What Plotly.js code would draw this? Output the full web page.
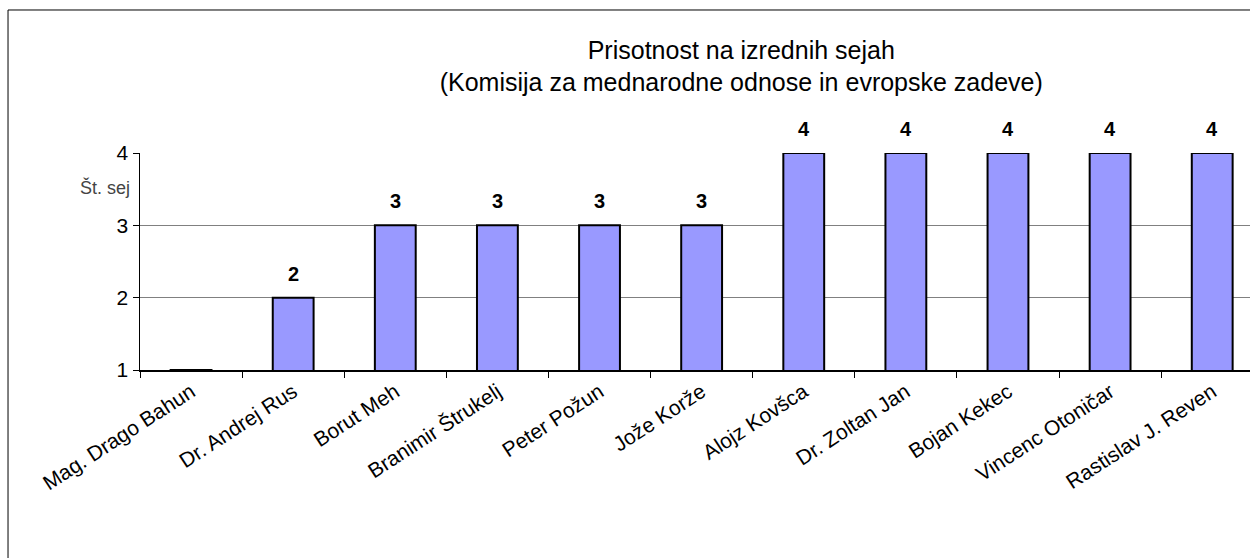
<!DOCTYPE html>
<html>
<head>
<meta charset="utf-8">
<script src="https://cdn.plot.ly/plotly-3.0.1.min.js"></script>
<style>
  body { margin: 0; background: #fff; }
  #chart { width: 1250px; height: 558px; }
</style>
</head>
<body>
<div id="chart"></div>
<script>
// Attendance at extraordinary sessions, one bar per member
const members = [
    'Mag. Drago Bahun', 'Dr. Andrej Rus', 'Borut Meh', 'Branimir Štrukelj',
    'Peter Požun', 'Jože Korže', 'Alojz Kovšca', 'Dr. Zoltan Jan',
    'Bojan Kekec', 'Vincenc Otoničar', 'Rastislav J. Reven'
];
const sessions = [1, 2, 3, 3, 3, 3, 4, 4, 4, 4, 4];
const yTicks = [1, 2, 3, 4];

const chartTitle = 'Prisotnost na izrednih sejah<br>(Komisija za mednarodne odnose in evropske zadeve)';
const yLabel = 'Št. sej';

const font = 'Arial, "Liberation Sans", sans-serif';

const data = [{
    type: 'bar',
    x: members,
    y: sessions,
    width: 0.4,
    marker: {
        color: '#9999FF',
        line: { color: '#000', width: 2 }
    },
    hoverinfo: 'x+y'
}];

// value labels above bars (none for the bar sitting on the axis floor)
const valueLabels = [];
members.forEach((m, i) => {
    if (sessions[i] > yTicks[0]) {
        valueLabels.push({
            x: m, y: sessions[i], xref: 'x', yref: 'y',
            text: String(sessions[i]),
            showarrow: false,
            yanchor: 'middle', yshift: 24,
            font: { family: font, size: 20, color: '#000', weight: 'bold' }
        });
    }
});

const layout = {
    width: 1250,
    height: 558,
    paper_bgcolor: '#fff',
    plot_bgcolor: '#fff',
    showlegend: false,
    margin: { l: 140, r: 0, t: 153, b: 188 },
    font: { family: font, color: '#000' },
    title: {
        text: chartTitle,
        font: { family: font, size: 25, color: '#000' },
        xref: 'container', x: 0.593, xanchor: 'center',
        yref: 'container', y: 0.895, yanchor: 'middle'
    },
    xaxis: {
        type: 'category',
        range: [-0.5, 10.37],
        tickson: 'boundaries',
        ticks: 'outside',
        ticklen: 6,
        tickcolor: '#000',
        tickangle: -33,
        tickfont: { family: font, size: 21, color: '#000' },
        showgrid: false,
        showline: true,
        linecolor: '#000',
        linewidth: 1.5,
        fixedrange: true
    },
    yaxis: {
        range: [1, 4],
        tickvals: yTicks,
        ticks: 'outside',
        ticklen: 6,
        tickcolor: '#000',
        tickfont: { family: font, size: 21, color: '#000' },
        showgrid: true,
        gridcolor: '#808080',
        gridwidth: 1,
        showline: true,
        linecolor: '#000',
        linewidth: 1.5,
        zeroline: false,
        fixedrange: true
    },
    annotations: valueLabels.concat([{
        text: yLabel,
        xref: 'paper', x: -0.056, xanchor: 'left',
        yref: 'paper', y: 0.843, yanchor: 'middle',
        showarrow: false,
        font: { family: font, size: 18, color: '#444' }
    }]),
    shapes: [
        // frame of the original picture (top and left edges)
        { type: 'line', xref: 'paper', yref: 'paper', x0: -0.1189, x1: 1.01, y0: 1.659, y1: 1.659,
          line: { color: '#000', width: 1 } },
        { type: 'line', xref: 'paper', yref: 'paper', x0: -0.1189, x1: -0.1189, y0: 1.659, y1: -0.9,
          line: { color: '#000', width: 1 } }
    ]
};

Plotly.newPlot('chart', data, layout, { displayModeBar: false, staticPlot: true });
</script>
</body>
</html>
